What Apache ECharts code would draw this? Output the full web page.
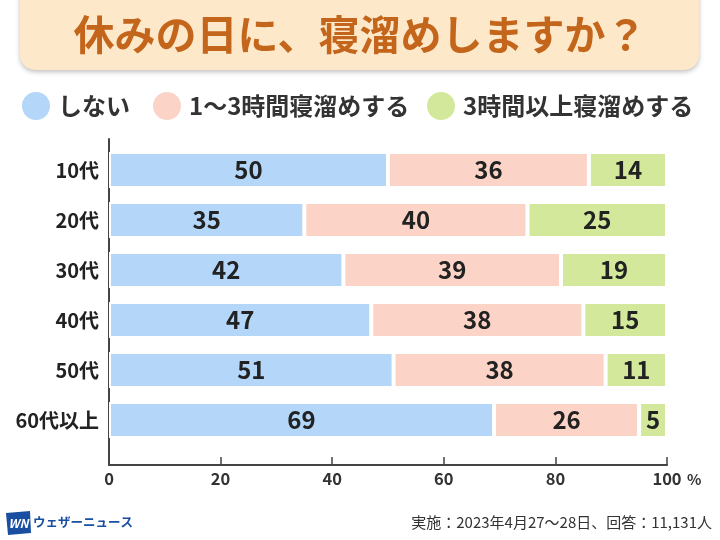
<!DOCTYPE html>
<html>
<head>
<meta charset="utf-8">
<script src="https://cdn.jsdelivr.net/npm/echarts@6/dist/echarts.min.js"></script>
<style>html,body{margin:0;padding:0;background:#fff}#c{width:720px;height:540px}</style>
</head>
<body>
<div id="c"></div>
<script>
const categories = ['10代', '20代', '30代', '40代', '50代', '60代以上'];
const seriesNames = ['しない', '1〜3時間寝溜めする', '3時間以上寝溜めする'];
const noSleepIn = [50, 35, 42, 47, 51, 69];
const oneToThree = [36, 40, 39, 38, 38, 26];
const overThree = [14, 25, 19, 15, 11, 5];
const xTicks = [0, 20, 40, 60, 80, 100];

const FONT = '"Noto Sans CJK JP", "Noto Sans", sans-serif';
const colors = ['#b4d6f9', '#fbd4c7', '#d4e89c'];
const chart = echarts.init(document.getElementById('c'), null, {renderer: 'canvas'});

function barSeries(name, data, color) {
  return {
    name: name, type: 'bar', stack: 'total',
    xAxisIndex: 0, yAxisIndex: 0,
    barWidth: 36,
    data: data,
    itemStyle: {color: color, borderColor: '#fff', borderWidth: 2},
    label: {show: true, position: 'inside', fontSize: 24, fontWeight: 'bold', color: '#222', fontFamily: FONT},
    emphasis: {disabled: true}
  };
}

const legendLefts = [20, 151, 425];

chart.setOption({
  animation: false,
  backgroundColor: '#fff',
  title: {
    text: '休みの日に、寝溜めしますか？',
    left: 'center', top: 9,
    textStyle: {fontSize: 41, fontWeight: 'bold', color: '#c4651c', fontFamily: FONT}
  },
  legend: seriesNames.map((n, i) => ({
    data: [n], left: legendLefts[i], top: 90, padding: 0,
    icon: 'circle', itemWidth: 30, itemHeight: 30,
    selectedMode: false,
    textStyle: {fontSize: 24, fontWeight: 'bold', color: '#333', fontFamily: FONT, padding: [0, 0, 0, 2]}
  })),
  grid: [
    {left: 109, width: 558, top: 145, height: 300},
    {left: 109, width: 558, top: 139, height: 326}
  ],
  xAxis: [
    {gridIndex: 0, type: 'value', min: 0, max: 100, show: false},
    {gridIndex: 1, type: 'value', min: 0, max: 100, interval: 20,
     axisLine: {show: true, lineStyle: {color: '#444', width: 2}},
     axisTick: {show: true, inside: true, length: 8, lineStyle: {color: '#444', width: 1.5}},
     splitLine: {show: false},
     axisLabel: {margin: 5, fontSize: 16.5, fontWeight: 'bold', color: '#333', fontFamily: FONT,
       formatter: v => xTicks.includes(v) ? String(v) : ''}
    }
  ],
  yAxis: [
    {gridIndex: 0, type: 'category', data: categories, inverse: true,
     axisLine: {show: false}, axisTick: {show: false},
     axisLabel: {margin: 10, fontSize: 20, fontWeight: 'bold', color: '#222', fontFamily: FONT}},
    {gridIndex: 1, type: 'value', min: 0, max: 1,
     axisLine: {show: true, lineStyle: {color: '#444', width: 2}},
     axisTick: {show: false}, axisLabel: {show: false}, splitLine: {show: false}}
  ],
  series: [
    barSeries(seriesNames[0], noSleepIn, colors[0]),
    barSeries(seriesNames[1], oneToThree, colors[1]),
    barSeries(seriesNames[2], overThree, colors[2])
  ],
  graphic: [
    {type: 'rect', z: -10, shape: {x: 20, y: -20, width: 679, height: 90, r: 15},
     style: {fill: '#fde8c9', shadowBlur: 5, shadowOffsetY: 2, shadowColor: 'rgba(0,0,0,0.25)'}},
    {type: 'text', x: 687, y: 479, style: {text: '%', fontSize: 15, fontWeight: 'bold', fill: '#333', fontFamily: FONT, verticalAlign: 'middle', align: 'left'}},
    {type: 'text', x: 712, y: 522, style: {text: '実施：2023年4月27〜28日、回答：11,131人', fontSize: 15, fill: '#333', fontFamily: FONT, align: 'right', verticalAlign: 'middle'}},
    {type: 'polygon', shape: {points: [[6, 513], [30, 511], [31, 533], [8, 535]]}, style: {fill: '#1a4ea0'}},
    {type: 'text', x: 18.5, y: 523, style: {text: 'WN', fontSize: 12, fontWeight: 'bold', fontStyle: 'italic', fill: '#fff', fontFamily: FONT, align: 'center', verticalAlign: 'middle'}},
    {type: 'text', x: 33, y: 522, style: {text: 'ウェザーニュース', fontSize: 12.5, fontWeight: 'bold', fill: '#1a4ea0', fontFamily: FONT, align: 'left', verticalAlign: 'middle'}}
  ]
});
</script>
</body>
</html>
